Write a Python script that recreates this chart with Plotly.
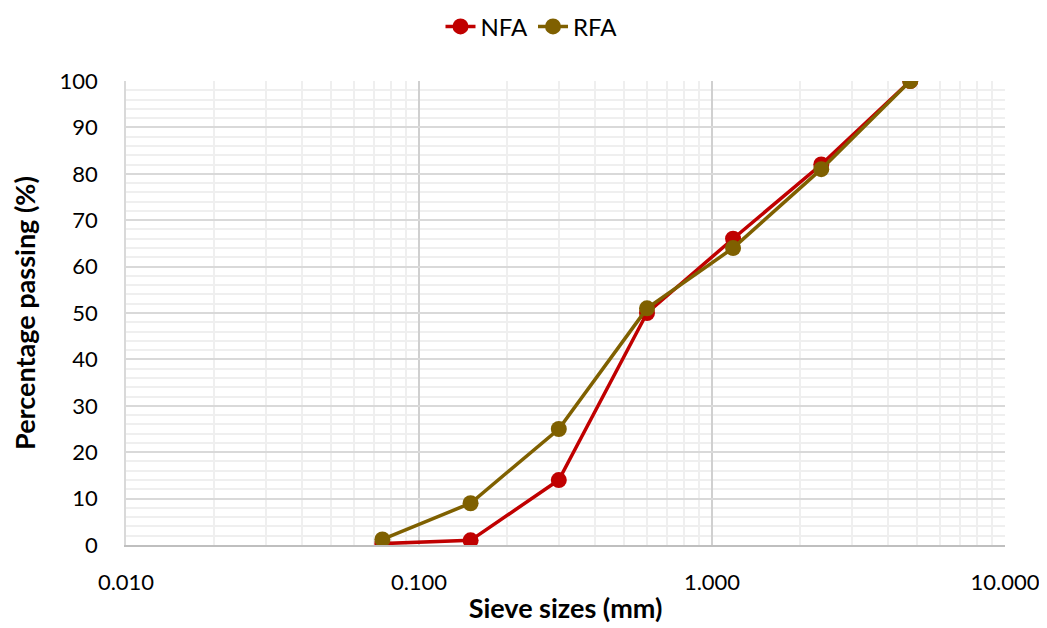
import plotly.graph_objects as go

sieve_sizes = [4.75, 2.36, 1.18, 0.6, 0.3, 0.15, 0.075]
nfa_passing = [100, 82, 66, 50, 14, 1, 0.3]
rfa_passing = [100, 81, 64, 51, 25, 9, 1.2]
x_tick_vals = [0.01, 0.1, 1, 10]
x_tick_text = ["0.010", "0.100", "1.000", "10.000"]

FONT = "Lato, 'Open Sans', sans-serif"

fig = go.Figure()
fig.add_trace(go.Scatter(
    x=sieve_sizes, y=nfa_passing, name="NFA", mode="lines+markers",
    line=dict(color="#C00000", width=3.5),
    marker=dict(color="#C00000", size=16),
))
fig.add_trace(go.Scatter(
    x=sieve_sizes, y=rfa_passing, name="RFA", mode="lines+markers",
    line=dict(color="#7F6000", width=3.5),
    marker=dict(color="#7F6000", size=16),
))

fig.update_layout(
    width=1047, height=628,
    paper_bgcolor="white", plot_bgcolor="white",
    margin=dict(l=118, r=50, t=73, b=91, autoexpand=False),
    font=dict(family=FONT, size=22, color="#000000"),
    legend=dict(orientation="h", x=0.5, xanchor="center", xref="container",
                y=0.97, yanchor="middle", yref="container",
                font=dict(size=24), traceorder="normal"),
    showlegend=True,
)

fig.update_xaxes(
    type="log", range=[-2, 1], automargin=False,
    tickvals=x_tick_vals, ticktext=x_tick_text,
    showgrid=True, gridcolor="#d0d0d0", gridwidth=1.5,
    minor=dict(dtick="D1", showgrid=True, gridcolor="#efefef", gridwidth=1.5, ticks=""),
    showline=True, linecolor="#bfbfbf", linewidth=1.5,
    ticks="", zeroline=False, ticklabelstandoff=17,
    title=dict(text="<b>Sieve sizes (mm)</b>", font=dict(size=27), standoff=5),
)
fig.update_yaxes(
    range=[0, 100], dtick=10, automargin=False,
    showgrid=True, gridcolor="#d9d9d9", gridwidth=1.5,
    minor=dict(dtick=2, showgrid=True, gridcolor="#efefef", gridwidth=1.5, ticks=""),
    showline=True, linecolor="#d9d9d9", linewidth=1.5,
    ticks="", zeroline=False, ticklabelstandoff=22,
    title=dict(text="<b>Percentage passing (%)</b>", font=dict(size=27), standoff=20),
)

fig.write_html("out.html")
